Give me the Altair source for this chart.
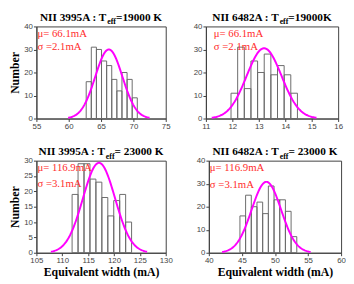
import altair as alt
import pandas as pd
import numpy as np

# ---------------- data ----------------
title_main = ["NII 3995A : T", "NII 6482A : T", "NII 3995A : T", "NII 6482A : T"]
title_sub = ["eff", "eff", "eff", "eff"]
title_rest = ["=19000 K", "=19000K", "= 23000 K", "= 23000 K"]
mu_labels = ["\u03bc= 66.1mA", "\u03bc= 66.1mA", "\u03bc= 116.9mA", "\u03bc= 116.9mA"]
sigma_labels = ["\u03c3 =2.1mA", "\u03c3 =2.1mA", "\u03c3 =3.1mA", "\u03c3 =3.1mA"]

counts_1 = [16, 31, 30, 25, 23, 17, 12, 20, 17, 9]
counts_2 = [11, 31, 13, 25, 20, 28, 19, 23, 19, 11]
counts_3 = [19, 29, 29, 24, 23, 18, 12, 17, 19, 10]
counts_4 = [16, 25, 20, 22, 17, 29, 23, 23, 18, 7]
all_counts = [counts_1, counts_2, counts_3, counts_4]
bin_start = [62.7, 11.95, 111.9, 44.7]
bin_width = [0.79, 0.251, 1.15, 0.86]

fit_mu = [66.2, 13.2, 117.1, 48.7]
fit_sigma = [2.1, 0.66, 3.1, 2.23]
fit_peak = [30.0, 30.5, 29.3, 30.8]

x_domains = [[55, 75], [11, 16], [105, 130], [40, 60]]
y_domains = [[0, 40], [0, 40], [0, 30], [0, 40]]
x_ticks = [[55, 60, 65, 70, 75], [11, 12, 13, 14, 15, 16],
           [105, 110, 115, 120, 125, 130], [40, 45, 50, 55, 60]]
y_ticks = [[0, 10, 20, 30, 40], [0, 10, 20, 30, 40],
           [0, 5, 10, 15, 20, 25, 30], [0, 10, 20, 30, 40]]

# ---------------- style ----------------
SERIF = "Liberation Serif"
SANS = "Liberation Sans"
RED = "#ff2b2b"
MAGENTA = "#ff00ff"
BAR_STROKE = "#6a6a6a"

# approximate Times-Bold advance widths (per 1000 em) for centring the title
TB = {"N": 722, "I": 389, " ": 250, "A": 722, ":": 333, "T": 667, "e": 444,
      "f": 333, "=": 570, "K": 778}


def tw(s, size):
    return sum(TB.get(c, 500) for c in s) * size / 1000.0


def make_axis(vals, title):
    return alt.Axis(values=vals, title=title, format="d", labelOverlap=False,
                    labelFlush=False, labelBound=False, tickCount=len(vals))


def panel(i, w, h, x_title, y_title, text_x, mu_y, sig_y):
    bars = pd.DataFrame({
        "x0": [bin_start[i] + k * bin_width[i] for k in range(len(all_counts[i]))],
        "x1": [bin_start[i] + (k + 1) * bin_width[i] for k in range(len(all_counts[i]))],
        "n": all_counts[i],
    })
    gx = np.linspace(fit_mu[i] - 3 * fit_sigma[i], fit_mu[i] + 3 * fit_sigma[i], 120)
    curve = pd.DataFrame({
        "x": gx,
        "y": fit_peak[i] * np.exp(-0.5 * ((gx - fit_mu[i]) / fit_sigma[i]) ** 2),
    })
    xs = alt.Scale(domain=x_domains[i], nice=False, zero=False)
    ys = alt.Scale(domain=y_domains[i], nice=False, zero=True)

    rects = alt.Chart(bars).mark_rect(
        fill="white", fillOpacity=0, stroke=BAR_STROKE, strokeWidth=1
    ).encode(
        x=alt.X("x0:Q", scale=xs, axis=make_axis(x_ticks[i], x_title)),
        x2="x1:Q",
        y=alt.Y("n:Q", scale=ys, axis=make_axis(y_ticks[i], y_title)),
        y2=alt.datum(0),
    )
    line = alt.Chart(curve).mark_line(color=MAGENTA, strokeWidth=2).encode(
        x=alt.X("x:Q", scale=xs, axis=make_axis(x_ticks[i], x_title)),
        y=alt.Y("y:Q", scale=ys, axis=make_axis(y_ticks[i], y_title)),
    )

    one = pd.DataFrame({"a": [0]})
    mu_t = alt.Chart(one).mark_text(
        text=mu_labels[i], align="left", baseline="alphabetic",
        font=SERIF, fontSize=11, color=RED
    ).encode(x=alt.value(text_x), y=alt.value(mu_y))
    sig_t = alt.Chart(one).mark_text(
        text=sigma_labels[i], align="left", baseline="alphabetic",
        font=SERIF, fontSize=11, color=RED
    ).encode(x=alt.value(text_x), y=alt.value(sig_y))

    w1 = tw(title_main[i], 11.5)
    w2 = tw(title_sub[i], 8)
    w3 = tw(title_rest[i], 11.5)
    start = w / 2.0 - (w1 + w2 + w3) / 2.0
    t1 = alt.Chart(one).mark_text(
        text=title_main[i], align="left", baseline="alphabetic",
        font=SERIF, fontWeight="bold", fontSize=11.5, color="black"
    ).encode(x=alt.value(start), y=alt.value(-6))
    t2 = alt.Chart(one).mark_text(
        text=title_sub[i], align="left", baseline="alphabetic",
        font=SERIF, fontWeight="bold", fontSize=8, color="black"
    ).encode(x=alt.value(start + w1), y=alt.value(-2))
    t3 = alt.Chart(one).mark_text(
        text=title_rest[i], align="left", baseline="alphabetic",
        font=SERIF, fontWeight="bold", fontSize=11.5, color="black"
    ).encode(x=alt.value(start + w1 + w2), y=alt.value(-6))

    return alt.layer(rects, line, mu_t, sig_t, t1, t2, t3).properties(width=w, height=h)


H = 94
p1 = panel(0, 132, H, None, "Number", 1, 11, 24)
p2 = panel(1, 135, H, None, None, 8, 11, 24)
p3 = panel(2, 132, H, "Equivalent width (mA)", "Number", 1, 11, 27)
p4 = panel(3, 135, H, "Equivalent width (mA)", None, 1, 11, 28)

chart = alt.vconcat(
    alt.hconcat(p1, p2, spacing=22),
    alt.hconcat(p3, p4, spacing=22),
    spacing=14,
).properties(
    padding={"left": 0, "top": 0, "right": 0, "bottom": 0}
).configure_view(
    stroke="#404040", strokeWidth=1
).configure_axis(
    grid=False,
    domainColor="#404040",
    tickColor="#404040",
    tickSize=3,
    labelFont=SANS,
    labelFontSize=8,
    labelColor="#444444",
    labelPadding=1,
    labelOverlap=False,
    labelFlush=False,
    labelBound=False,
    titleFont=SERIF,
    titleFontSize=12,
    titleFontWeight="bold",
    titleColor="black",
    titlePadding=2,
)

chart.save("out.html", embed_options={"renderer": "svg", "actions": False})
